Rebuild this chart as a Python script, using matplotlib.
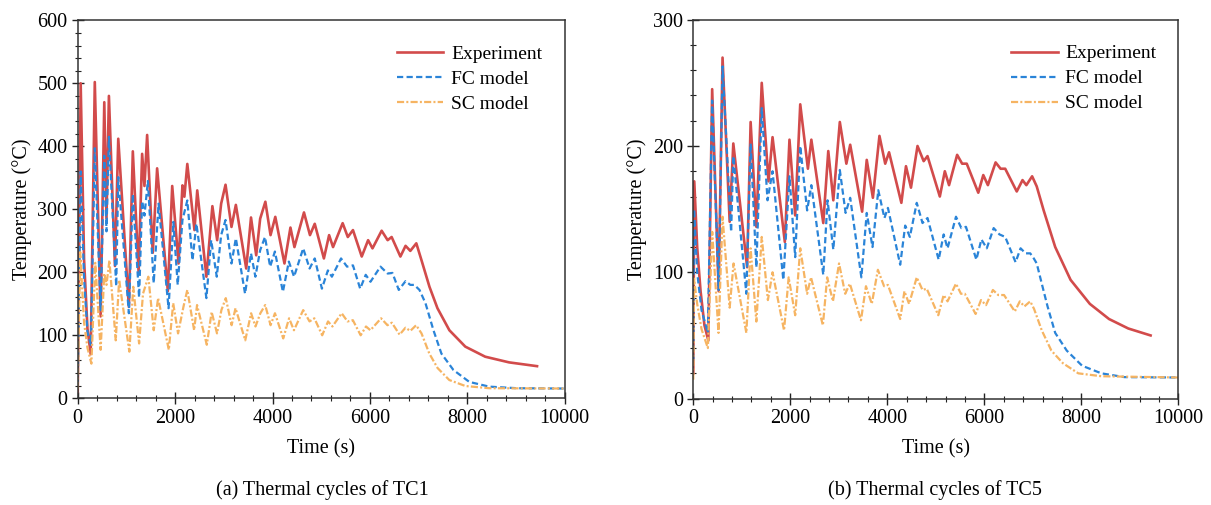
import numpy as np
import matplotlib
matplotlib.use('Agg')
import matplotlib.pyplot as plt
from matplotlib.ticker import MultipleLocator

plt.rcParams['font.family'] = ['Liberation Serif', 'DejaVu Serif']
plt.rcParams['font.size'] = 14

# ---- data (time s, temperature degC) ----
tc1_exp = [(0, 10), (60, 500), (130, 220), (200, 110), (266, 70), (350, 502), (470, 130),
           (545, 470), (590, 285), (640, 480), (764, 210), (832, 412), (1050, 145), (1131, 392),
           (1250, 200), (1322, 388), (1370, 337), (1425, 418), (1540, 231), (1630, 365),
           (1850, 170), (1940, 337), (2070, 214), (2150, 338), (2190, 320), (2250, 372),
           (2397, 267), (2454, 330), (2642, 193), (2765, 305), (2863, 251), (2945, 309),
           (3035, 339), (3157, 272), (3247, 307), (3460, 206), (3558, 287), (3665, 227),
           (3746, 285), (3853, 312), (3959, 259), (4057, 288), (4245, 214), (4368, 271),
           (4450, 240), (4646, 295), (4769, 259), (4867, 277), (5055, 222), (5162, 259),
           (5243, 240), (5440, 278), (5546, 256), (5652, 267), (5832, 225), (5963, 251),
           (6053, 238), (6241, 266), (6364, 251), (6446, 256), (6626, 225), (6732, 242),
           (6830, 234), (6953, 246), (7060, 219), (7223, 177), (7387, 143), (7632, 108),
           (7959, 82), (8368, 66), (8859, 57), (9432, 51)]
tc1_fc = [(0, 20), (60, 360), (130, 190), (200, 105), (270, 85), (350, 397), (470, 140),
          (545, 385), (590, 265), (640, 415), (790, 178), (832, 351), (1050, 135), (1131, 324),
          (1260, 160), (1322, 313), (1370, 290), (1440, 345), (1560, 183), (1660, 309),
          (1865, 143), (1963, 280), (2053, 180), (2150, 283), (2250, 314), (2356, 219),
          (2437, 277), (2642, 159), (2740, 251), (2855, 193), (2945, 259), (3035, 283),
          (3157, 214), (3247, 254), (3436, 166), (3558, 230), (3648, 193), (3746, 235),
          (3845, 256), (3951, 209), (4049, 233), (4213, 169), (4335, 217), (4442, 193),
          (4630, 238), (4761, 206), (4867, 222), (5014, 174), (5137, 203), (5219, 193),
          (5407, 222), (5530, 209), (5652, 211), (5800, 174), (5914, 196), (6012, 185),
          (6217, 209), (6364, 198), (6462, 199), (6593, 172), (6732, 186), (6830, 180),
          (6912, 180), (7018, 172), (7141, 151), (7305, 108), (7468, 71), (7714, 45),
          (8041, 26), (8450, 18.5), (9023, 16), (10000, 15.5)]
tc1_sc = [(0, 15), (50, 232), (130, 120), (200, 80), (280, 55), (360, 215), (470, 77),
          (545, 198), (590, 180), (650, 219), (780, 92), (850, 188), (1060, 74), (1140, 177),
          (1260, 87), (1340, 166), (1450, 193), (1560, 108), (1650, 159), (1870, 77),
          (1960, 151), (2060, 103), (2170, 145), (2250, 172), (2390, 108), (2450, 148),
          (2650, 85), (2750, 137), (2860, 103), (2950, 140), (3040, 159), (3160, 116),
          (3240, 143), (3440, 92), (3560, 135), (3650, 114), (3750, 135), (3850, 148),
          (3960, 116), (4050, 135), (4220, 95), (4340, 127), (4440, 108), (4630, 140),
          (4760, 122), (4860, 127), (5020, 100), (5140, 122), (5230, 114), (5420, 135),
          (5540, 122), (5650, 124), (5810, 100), (5920, 114), (6010, 108), (6230, 127),
          (6360, 116), (6450, 120), (6610, 101), (6730, 112), (6830, 107), (6950, 116),
          (7060, 103), (7220, 71), (7390, 48), (7630, 29), (7960, 19.5), (8450, 16),
          (10000, 15.5)]

tc5_exp = [(0, 20), (20, 172), (80, 120), (150, 85), (230, 58), (310, 46), (389, 245),
           (523, 85), (603, 270), (750, 140), (825, 202), (1110, 104), (1182, 219), (1300, 136),
           (1411, 250), (1550, 172), (1634, 207), (1887, 124), (1983, 205), (2101, 145),
           (2205, 233), (2363, 182), (2434, 205), (2680, 139), (2783, 196), (2887, 157),
           (3021, 219), (3156, 186), (3235, 201), (3481, 148), (3576, 189), (3703, 159),
           (3838, 208), (3957, 186), (4036, 195), (4290, 155), (4385, 184), (4488, 167),
           (4623, 200), (4750, 188), (4829, 192), (5083, 160), (5186, 180), (5273, 169),
           (5440, 193), (5543, 186), (5638, 186), (5876, 163), (5979, 177), (6074, 169),
           (6233, 187), (6336, 182), (6431, 182), (6669, 164), (6788, 173), (6867, 169),
           (6986, 176), (7081, 168), (7224, 149), (7462, 120), (7779, 94), (8176, 75),
           (8572, 63), (8969, 55.5), (9429, 50)]
tc5_fc = [(0, 30), (15, 150), (80, 100), (170, 70), (300, 52), (389, 236), (523, 86),
          (603, 263), (780, 132), (825, 192), (1094, 83), (1182, 202), (1300, 104), (1411, 230),
          (1530, 157), (1634, 180), (1856, 94), (1983, 176), (2101, 112), (2205, 200),
          (2347, 149), (2434, 169), (2680, 98), (2768, 157), (2887, 118), (3021, 181),
          (3140, 147), (3235, 159), (3465, 96), (3576, 147), (3695, 120), (3814, 165),
          (3941, 143), (4013, 151), (4266, 106), (4369, 137), (4465, 128), (4607, 155),
          (4726, 139), (4829, 143), (5059, 110), (5162, 130), (5242, 119), (5416, 144),
          (5527, 135), (5622, 136), (5836, 110), (5940, 126), (6051, 119), (6193, 135),
          (6312, 130), (6431, 128), (6645, 108), (6748, 119), (6851, 115), (6947, 115),
          (7020, 111), (7081, 107), (7185, 91), (7304, 73), (7462, 52), (7700, 38),
          (8017, 26), (8414, 20), (8890, 17), (10000, 16.7)]
tc5_sc = [(0, 15), (15, 95), (80, 75), (170, 55), (300, 40), (390, 132), (520, 52),
          (603, 144), (750, 72), (830, 107), (1094, 52), (1182, 119), (1300, 61), (1411, 128),
          (1538, 78), (1634, 100), (1871, 54), (1966, 96), (2101, 66), (2205, 119),
          (2347, 83), (2427, 96), (2672, 58), (2760, 96), (2879, 77), (3005, 107),
          (3132, 83), (3228, 91), (3457, 62), (3560, 89), (3680, 75), (3806, 102),
          (3933, 89), (4013, 90), (4266, 63), (4353, 85), (4449, 75), (4607, 96),
          (4726, 86), (4813, 87), (5051, 66), (5162, 82), (5242, 77), (5416, 91),
          (5519, 83), (5598, 83), (5821, 67), (5932, 78), (6035, 74), (6177, 86),
          (6288, 82), (6407, 82), (6629, 69), (6732, 77), (6827, 73), (6947, 77),
          (7026, 71), (7185, 54), (7383, 38), (7621, 28), (7938, 20), (8414, 17.7),
          (10000, 16.7)]

labels = ['Experiment', 'FC model', 'SC model']
captions = ['(a) Thermal cycles of TC1', '(b) Thermal cycles of TC5']

RED = '#d24b4b'
BLUE = '#2a84d8'
ORANGE = '#f6b462'


def draw_panel(ax, series, ymax, ystep, yminor):
    styles = [
        dict(color=RED, lw=1.9, ls='-'),
        dict(color=BLUE, lw=1.6, ls=(0, (2.8, 1.5))),
        dict(color=ORANGE, lw=1.6, ls=(0, (3.2, 1.0, 0.9, 1.0))),
    ]
    for pts, lab, st in zip(series, labels, styles):
        t, temp = np.array(pts).T
        ax.plot(t, temp, label=lab, **st)

    ax.set_xlim(0, 10000)
    ax.set_ylim(0, ymax)
    ax.xaxis.set_major_locator(MultipleLocator(2000))
    ax.xaxis.set_minor_locator(MultipleLocator(400))
    ax.yaxis.set_major_locator(MultipleLocator(ystep))
    ax.yaxis.set_minor_locator(MultipleLocator(yminor))
    ax.tick_params(which='major', direction='inout', length=8, width=1.0, labelsize=14.5,
                   top=False, right=False, colors='#222222', labelcolor='black')
    ax.tick_params(which='minor', direction='inout', length=4, width=0.8,
                   top=False, right=False, colors='#222222')
    for sp in ax.spines.values():
        sp.set_linewidth(1.1)
        sp.set_color('#333333')
    ax.set_xlabel('Time (s)', fontsize=14.5, labelpad=8)
    ax.set_ylabel('Temperature (°C)', fontsize=14.5, labelpad=4)
    ax.legend(loc='upper left', bbox_to_anchor=(0.655, 0.934), frameon=False,
              fontsize=14, handlelength=2.4, handletextpad=0.4, labelspacing=0.38,
              borderpad=0, borderaxespad=0)


fig = plt.figure(figsize=(12.11, 5.05), dpi=100)
ax1 = fig.add_axes([0.0642, 0.2113, 0.4021, 0.7485])
ax2 = fig.add_axes([0.5725, 0.2107, 0.4005, 0.7503])

draw_panel(ax1, [tc1_exp, tc1_fc, tc1_sc], 600, 100, 20)
draw_panel(ax2, [tc5_exp, tc5_fc, tc5_sc], 300, 100, 20)

fig.text(0.266, 0.03, captions[0], ha='center', va='center', fontsize=14.5)
fig.text(0.772, 0.03, captions[1], ha='center', va='center', fontsize=14.5)

plt.savefig('out.png', dpi=100)
